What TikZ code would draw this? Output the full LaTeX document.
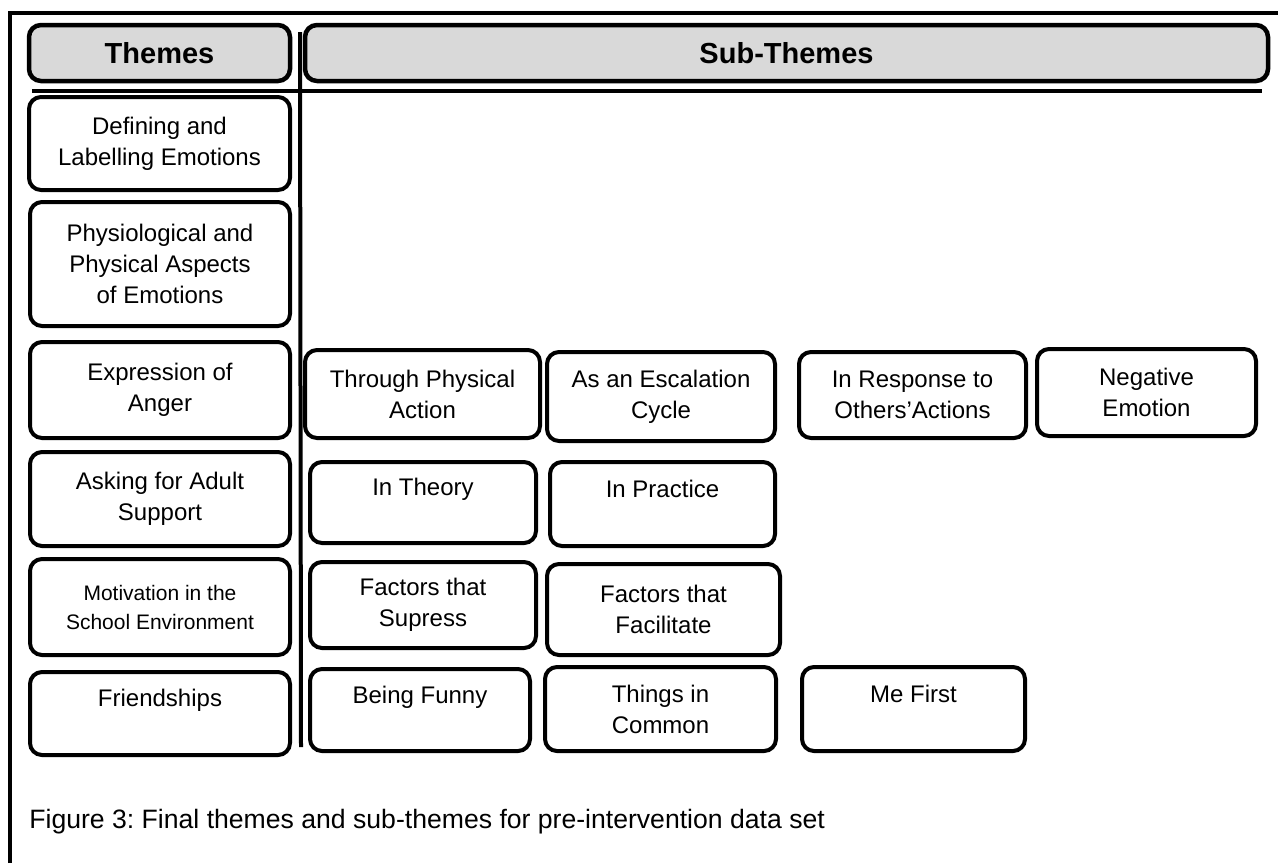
\documentclass[tikz,border=0pt]{standalone}
\usepackage{fontspec}
\setmainfont{Liberation Sans}
\frenchspacing
\newcommand\tbox[7]{%
  \node[#1, minimum width={(#5-#3-4)*0.5pt}, minimum height={(#6-#4-4)*0.5pt}] (#2) at ({(#3+#5)/2},{(#4+#6)/2}) {#7};}
\tikzset{
  box/.style={draw, line width=2pt, rounded corners=6pt, inner sep=0pt, align=center,
    font=\fontsize{12}{15.5}\selectfont, fill=white},
  hdr/.style={box, line width=2.25pt, fill=black!15, font=\fontsize{14.5}{17}\selectfont\bfseries},
  small/.style={box, font=\fontsize{10.5}{14.5}\selectfont},
  rule/.style={line width=2pt},
}
\begin{document}
\begin{tikzpicture}[x=0.5pt,y=-0.5pt]
\useasboundingbox (0,0) rectangle (1278,863);
% frame
\coordinate (fl) at (10,863);
\coordinate (ftl) at (10,13);
\coordinate (ftr) at (1278,13);
\draw[line width=1.75pt] (fl) -- (ftl) -- (ftr);
% rules
\coordinate (hl) at (32,90.5);
\coordinate (hr) at (1262,90.5);
\draw[rule] (hl) -- (hr);
\coordinate (vt) at (300,32);
\coordinate (vb) at (301,747);
\draw[rule] (vt) -- (vb);
% headers
\tbox{hdr}{themes}{27}{23}{292}{83}{Themes}
\tbox{hdr}{subthemes}{303}{23}{1270}{83}{Sub-Themes}
% themes
\tbox{box}{t1}{27}{95}{292}{192}{Defining and\\Labelling Emotions}
\tbox{box}{t2}{28}{200}{292}{328}{Physiological and\\Physical Aspects\\of Emotions}
\tbox{box}{t3}{28}{340}{292}{440}{Expression of\\Anger}
\tbox{box}{t4}{28}{450}{292}{548}{Asking for Adult\\Support}
\tbox{small}{t5}{28}{557}{292}{657}{Motivation in the\\School Environment}
\tbox{box}{t6}{28}{670}{292}{757}{Friendships\\\mbox{}}
% sub-themes: anger
\tbox{box}{s31}{303}{348}{542}{440}{Through Physical\\Action}
\tbox{box}{s32}{545}{350}{777}{443}{As an Escalation\\Cycle}
\tbox{box}{s33}{797}{350}{1028}{440}{In Response to\\Others’Actions}
\tbox{box}{s34}{1035}{347}{1258}{438}{Negative\\Emotion}
% adult support
\tbox{box}{s41}{308}{460}{538}{545}{In Theory\\\mbox{}}
\tbox{box}{s42}{548}{460}{777}{548}{In Practice\\\mbox{}}
% motivation
\tbox{box}{s51}{308}{560}{538}{650}{Factors that\\Supress}
\tbox{box}{s52}{545}{562}{782}{657}{Factors that\\Facilitate}
% friendships
\tbox{box}{s61}{308}{667}{532}{753}{Being Funny\\\mbox{}}
\tbox{box}{s62}{543}{665}{778}{753}{Things in\\Common}
\tbox{box}{s63}{800}{665}{1027}{753}{Me First\\\mbox{}}
% caption
\node[anchor=west, inner sep=0pt, font=\fontsize{13.3}{16}\selectfont] (cap) at (29,822) {Figure 3: Final themes and sub-themes for pre-intervention data set};
\end{tikzpicture}
\end{document}
